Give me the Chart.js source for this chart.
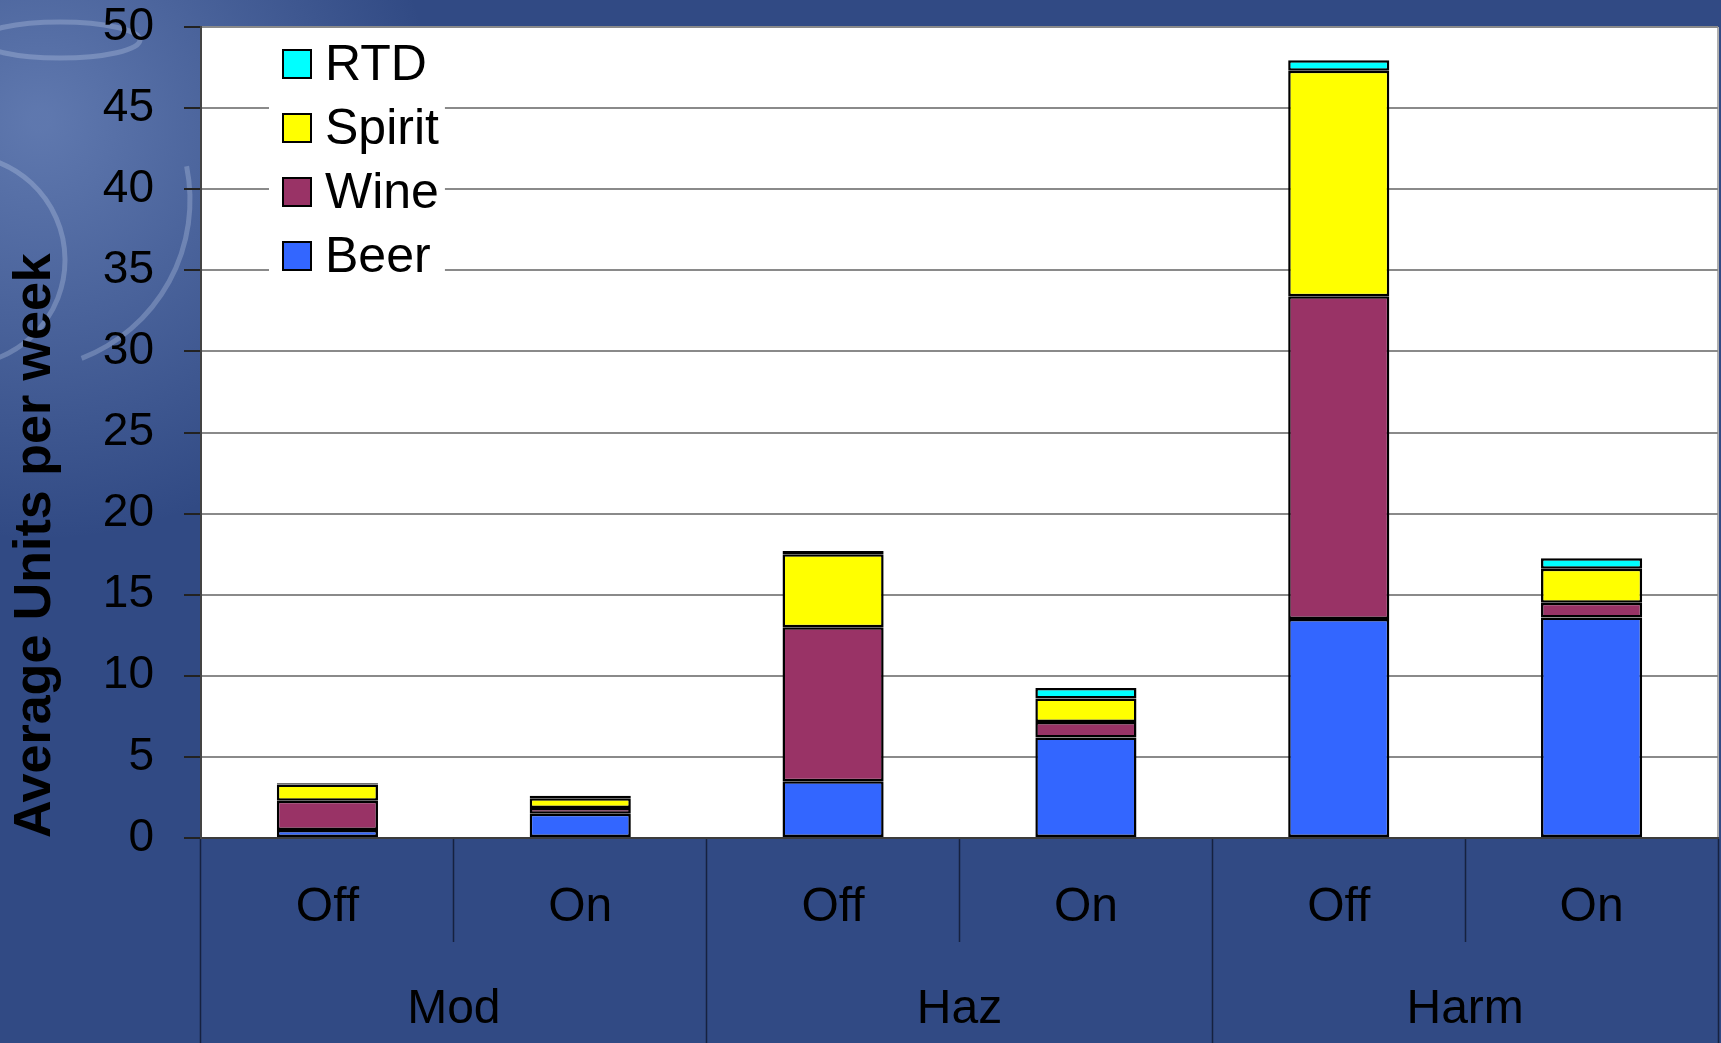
<!DOCTYPE html>
<html>
<head>
<meta charset="utf-8">
<script src="https://cdn.jsdelivr.net/npm/chart.js@4.4.1/dist/chart.umd.min.js"></script>
<style>
  html, body { margin: 0; padding: 0; background: #314a84; }
  #wrap { width: 1721px; height: 1043px; }
</style>
</head>
<body>
<div id="wrap"><canvas id="units" width="1721" height="1043"></canvas></div>
<script>
// categories
var groups = ["Mod", "Haz", "Harm"];
var outlets = ["Off", "On", "Off", "On", "Off", "On"];

// average units per week
var beer   = [0.5, 1.5, 3.5, 6.2, 13.5, 13.6];
var wine   = [1.8, 0.35, 9.5, 0.95, 19.9, 0.9];
var spirit = [1.0, 0.6, 4.5, 1.45, 13.9, 2.1];
var rtd    = [0.08, 0.15, 0.2, 0.65, 0.65, 0.65];

var yMax = 50;
var yStep = 5;

var FONT = "'Liberation Sans', Arial, sans-serif";
Chart.defaults.font.family = FONT;
Chart.defaults.color = "#000";

// blue slide background + white plot area
var backdrop = {
  id: "backdrop",
  beforeDraw: function (chart) {
    var ctx = chart.ctx, a = chart.chartArea;
    ctx.save();
    ctx.fillStyle = "#314a84";
    ctx.fillRect(0, 0, chart.width, chart.height);

    // faint ornament in the top-left corner
    var g = ctx.createRadialGradient(40, 120, 10, 40, 140, 400);
    g.addColorStop(0, "rgba(150,175,225,0.45)");
    g.addColorStop(1, "rgba(150,175,225,0)");
    ctx.fillStyle = g;
    ctx.fillRect(0, 0, chart.width, chart.height);
    ctx.strokeStyle = "rgba(220,230,250,0.25)";
    ctx.lineWidth = 5;
    ctx.beginPath();
    ctx.ellipse(60, 40, 80, 18, 0, 0, Math.PI * 2);
    ctx.stroke();
    ctx.beginPath();
    ctx.arc(-40, 260, 105, -1.2, 1.3);
    ctx.stroke();
    ctx.beginPath();
    ctx.arc(20, 200, 170, -0.2, 1.2);
    ctx.stroke();

    ctx.fillStyle = "#ffffff";
    ctx.fillRect(a.left, a.top, a.right - a.left, a.bottom - a.top);
    ctx.strokeStyle = "#b0b0b0";
    ctx.lineWidth = 2;
    ctx.beginPath();
    ctx.moveTo(a.right, a.top);
    ctx.lineTo(a.right, a.bottom);
    ctx.stroke();
    ctx.restore();
  }
};

// legend sits inside the plot on a white patch that hides the grid
var boxLegend = {
  id: "boxLegend",
  beforeDatasetsDraw: function (chart) {
    var ctx = chart.ctx, a = chart.chartArea;
    var sets = chart.data.datasets.slice().reverse();
    var x = a.left + 82, y = a.top + 37, row = 64, sw = 28;
    ctx.save();
    ctx.font = "50px " + FONT;
    var w = 0;
    sets.forEach(function (d) { w = Math.max(w, ctx.measureText(d.label).width); });
    ctx.fillStyle = "#ffffff";
    ctx.fillRect(x - 14, a.top + 4, sw + 14 + w + 20, y - a.top + row * (sets.length - 1) + 34);
    ctx.textBaseline = "middle";
    ctx.textAlign = "left";
    sets.forEach(function (d, i) {
      var cy = y + i * row;
      ctx.fillStyle = d.backgroundColor;
      ctx.fillRect(x, cy - sw / 2, sw, sw);
      ctx.strokeStyle = "#000";
      ctx.lineWidth = 2;
      ctx.strokeRect(x, cy - sw / 2, sw, sw);
      ctx.fillStyle = "#000";
      ctx.fillText(d.label, x + sw + 14, cy + 2);
    });
    ctx.restore();
  }
};

function series(label, values, colour) {
  return {
    label: label,
    data: values,
    backgroundColor: colour,
    borderColor: "#000",
    borderWidth: 2.5,
    borderSkipped: false,
    barPercentage: 0.4,
    categoryPercentage: 1.0
  };
}

new Chart(document.getElementById("units"), {
  type: "bar",
  data: {
    labels: outlets,
    datasets: [
      series("Beer", beer, "#3366ff"),
      series("Wine", wine, "#993366"),
      series("Spirit", spirit, "#ffff00"),
      series("RTD", rtd, "#00ffff")
    ]
  },
  options: {
    responsive: false,
    animation: false,
    layout: { padding: { top: 27, right: 3, left: 0, bottom: 0 } },
    plugins: {
      legend: { display: false },
      tooltip: { enabled: false }
    },
    scales: {
      x: {
        type: "category",
        stacked: true,
        position: "bottom",
        weight: 0,
        grid: { drawOnChartArea: false, drawTicks: true, offset: true, tickLength: 104, tickColor: "#16213f", tickWidth: 1.5 },
        border: { display: true, color: "#3c3c3c", width: 2 },
        ticks: { color: "#000", font: { size: 48 }, padding: -63, maxRotation: 0 },
        afterFit: function (s) { s.height = 104; }
      },
      x2: {
        type: "category",
        labels: groups,
        position: "bottom",
        weight: 1,
        offset: true,
        grid: { drawOnChartArea: false, drawTicks: true, offset: true, tickLength: 101, tickColor: "#16213f", tickWidth: 1.5 },
        border: { display: false },
        ticks: { color: "#000", font: { size: 48 }, padding: -62, maxRotation: 0 },
        afterFit: function (s) { s.height = 101; }
      },
      y: {
        stacked: true,
        min: 0,
        max: yMax,
        ticks: { stepSize: yStep, color: "#000", font: { size: 46 }, padding: 30 },
        grid: { color: "#8a8a8a", lineWidth: 2, tickColor: "#222", tickLength: 17, tickWidth: 2 },
        border: { display: true, color: "#444", width: 2 },
        title: {
          display: true,
          text: "Average Units per week",
          color: "#000",
          align: "start",
          font: { size: 52, weight: "bold" },
          padding: { top: 4, bottom: 0 }
        },
        afterFit: function (s) {
          s.width = 201;
          s.paddingTop = 0;
          s.paddingBottom = 0;
        }
      }
    }
  },
  plugins: [backdrop, boxLegend]
});
</script>
</body>
</html>
